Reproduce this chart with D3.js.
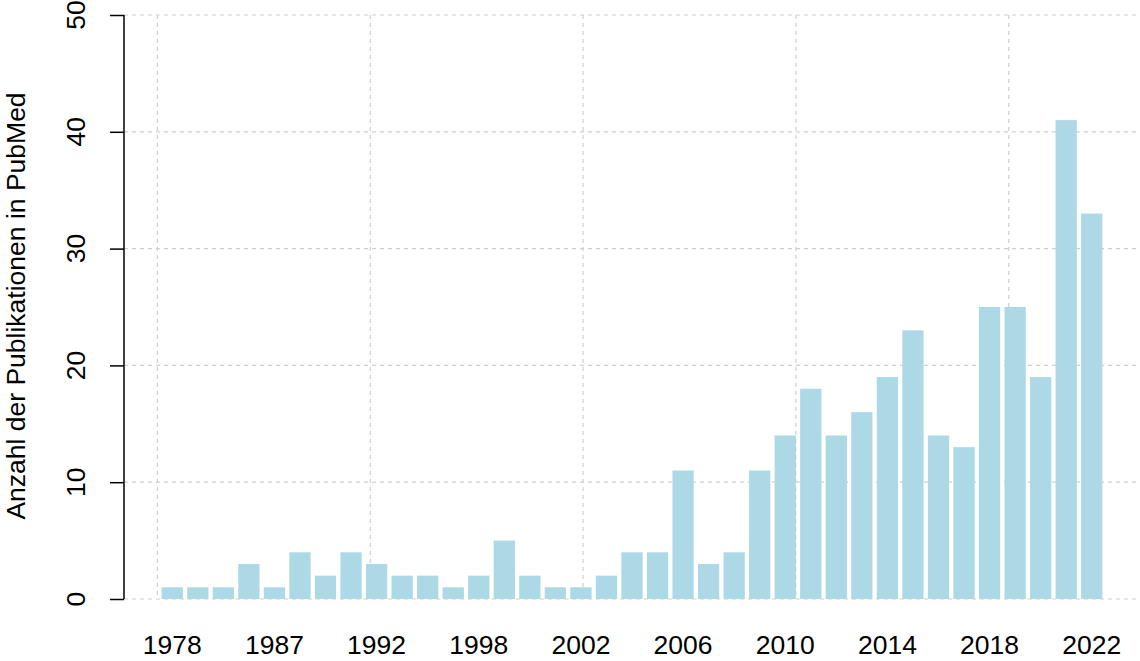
<!DOCTYPE html>
<html>
<head>
<meta charset="utf-8">
<script src="https://cdn.jsdelivr.net/npm/d3@7"></script>
<style>
  body { margin: 0; background: #fff; }
  text { font-family: "Liberation Sans", Arial, sans-serif; fill: #000; }
</style>
</head>
<body>
<div id="chart"></div>
<script>
// publications per year (years without hits are not listed)
const years = ["1978", "1980", "1983", "1985", "1987", "1988", "1989", "1990",
  "1992", "1993", "1995", "1997", "1998", "1999", "2000", "2001",
  "2002", "2003", "2004", "2005", "2006", "2007", "2008", "2009", "2010",
  "2011", "2012", "2013", "2014", "2015", "2016", "2017", "2018", "2019",
  "2020", "2021", "2022"];
const counts = [1, 1, 1, 3, 1, 4, 2, 4, 3, 2, 2, 1, 2, 5, 2, 1, 1,
  2, 4, 4, 11, 3, 4, 11, 14, 18, 14, 16, 19, 23, 14, 13, 25, 25, 19, 41, 33];
const yTicks = [0, 10, 20, 30, 40, 50];
const gridX = [0, 10, 20, 30, 40];

const data = years.map((y, i) => ({ year: y, count: counts[i], i: i }));

const width = 1140, height = 661;
const barW = 1, space = 0.2;
const fontSize = 26.5;

// R-style barplot coordinates: bar i spans [space + i*(1+space), ... + 1]
const xMax = data.length * (barW + space);
const ext = (xMax - space) * 0.04;
const x = d3.scaleLinear()
  .domain([space - ext, xMax + ext])
  .range([124, 1140]);

const y = d3.scaleLinear()
  .domain([0, 50])
  .range([599, 15]);

const svg = d3.select("#chart")
  .append("svg")
  .attr("width", width)
  .attr("height", height);

// grid
svg.append("g")
  .selectAll("line")
  .data(yTicks)
  .join("line")
  .attr("x1", x.range()[0])
  .attr("x2", x.range()[1])
  .attr("y1", d => y(d))
  .attr("y2", d => y(d))
  .attr("stroke", "#cfcfcf")
  .attr("stroke-width", 1.2)
  .attr("stroke-dasharray", "4,4");

svg.append("g")
  .selectAll("line")
  .data(gridX)
  .join("line")
  .attr("x1", d => x(d))
  .attr("x2", d => x(d))
  .attr("y1", y(50))
  .attr("y2", y(0))
  .attr("stroke", "#cfcfcf")
  .attr("stroke-width", 1.2)
  .attr("stroke-dasharray", "4,4");

// bars
svg.append("g")
  .selectAll("rect")
  .data(data)
  .join("rect")
  .attr("x", d => x(space + d.i * (barW + space)))
  .attr("width", d => x(barW) - x(0))
  .attr("y", d => y(d.count))
  .attr("height", d => y(0) - y(d.count))
  .attr("fill", "#add8e6");

// x labels, every fourth bar
svg.append("g")
  .selectAll("text")
  .data(data.filter(d => d.i % 4 === 0))
  .join("text")
  .attr("x", d => x(space + d.i * (barW + space) + barW / 2))
  .attr("y", 654)
  .attr("text-anchor", "middle")
  .attr("font-size", fontSize)
  .text(d => d.year);

// y axis
const yAxis = d3.axisLeft(y)
  .tickValues(yTicks)
  .tickSize(14)
  .tickFormat("");

svg.append("g")
  .attr("transform", `translate(${x.range()[0]},0)`)
  .call(yAxis)
  .call(g => g.select(".domain").attr("d", `M0,${y(0)}V${y(50)}`).attr("stroke-width", 1.5))
  .call(g => g.selectAll(".tick line").attr("stroke-width", 1.5));

svg.append("g")
  .selectAll("text")
  .data(yTicks)
  .join("text")
  .attr("transform", d => `translate(85,${y(d)}) rotate(-90)`)
  .attr("text-anchor", "middle")
  .attr("font-size", fontSize)
  .text(d => d);

svg.append("text")
  .attr("transform", `translate(25,306) rotate(-90)`)
  .attr("text-anchor", "middle")
  .attr("font-size", fontSize)
  .text("Anzahl der Publikationen in PubMed");
</script>
</body>
</html>
